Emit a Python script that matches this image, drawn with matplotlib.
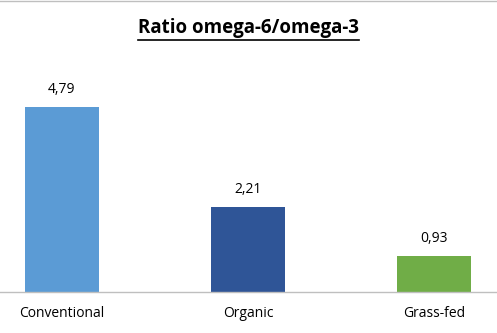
import matplotlib.pyplot as plt
from matplotlib.lines import Line2D

categories = ["Conventional", "Organic", "Grass-fed"]
values = [4.79, 2.21, 0.93]
labels = ["4,79", "2,21", "0,93"]
colors = ["#5B9BD5", "#2F5597", "#70AD47"]

plt.rcParams['font.family'] = ['Open Sans', 'DejaVu Sans']

W, H = 497, 333
fig = plt.figure(figsize=(W / 100, H / 100), dpi=100)
base = 292
ax = fig.add_axes([0, (H - base) / H, 1, base / H])

x = range(len(categories))
ax.bar(x, values, width=0.4, color=colors, zorder=2)
for i, v in enumerate(values):
    ax.text(i, v + 0.25, labels[i], ha='center', va='bottom', fontsize=10, color='#000000')

ax.set_xlim(-62 / 186, 2 + (W - 434) / 186)
ax.set_ylim(0, base / 38.6)
for s in ['top', 'left', 'right']:
    ax.spines[s].set_visible(False)
ax.spines['bottom'].set_color('#BFBFBF')
ax.spines['bottom'].set_linewidth(1)
ax.set_yticks([])
ax.set_xticks(list(x))
ax.set_xticklabels(categories, fontsize=10)
ax.tick_params(axis='x', length=0, pad=10)

t = fig.text(0.5, 1 - 28 / H, "Ratio omega-6/omega-3", ha='center', va='center',
             fontsize=13.5, fontweight='bold')
fig.canvas.draw()
bb = t.get_window_extent()
uy = bb.y0 - 1.5
fig.add_artist(Line2D([bb.x0 / W, bb.x1 / W], [uy / H, uy / H], color='black', lw=1.2))
fig.add_artist(Line2D([0, 1], [1 - 1 / H, 1 - 1 / H], color='#BFBFBF', lw=1))

fig.savefig("out.png", dpi=100)
